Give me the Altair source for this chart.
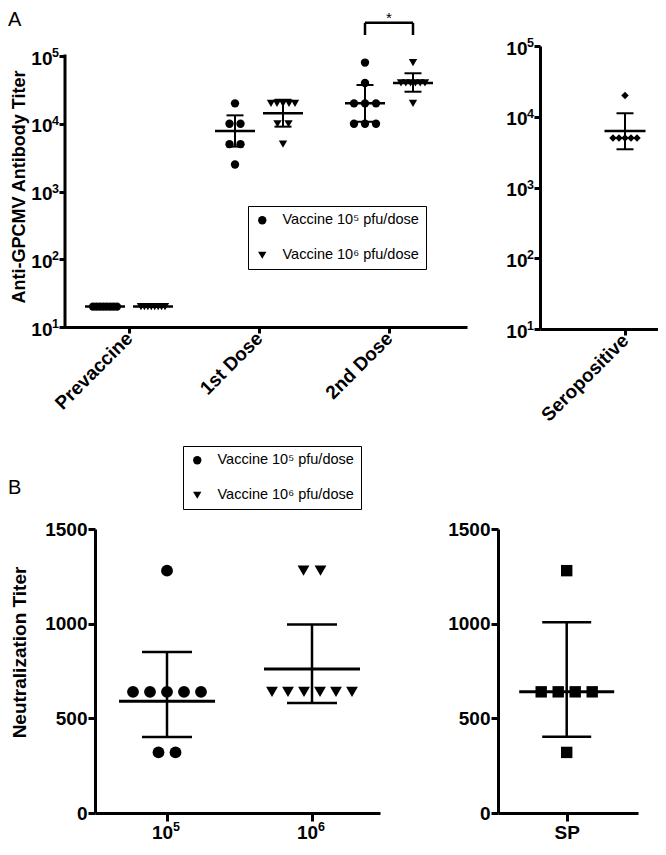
import json
from collections import Counter

import altair as alt
import pandas as pd

# ---------------- data ----------------
A_CATS = ["Prevaccine", "1st Dose", "2nd Dose"]
GROUPS = ["Vaccine 10⁵ pfu/dose", "Vaccine 10⁶ pfu/dose"]

a_prevaccine_1e5 = [20, 20, 20, 20, 20, 20, 20, 20]
a_prevaccine_1e6 = [20, 20, 20, 20, 20, 20, 20, 20]
a_dose1_1e5 = [20000, 10000, 10000, 5000, 5000, 2500]
a_dose1_1e6 = [20000, 20000, 20000, 20000, 20000, 10000, 10000, 5000]
a_dose2_1e5 = [80000, 40000, 20000, 20000, 20000, 10000, 10000, 10000]
a_dose2_1e6 = [80000, 40000, 40000, 40000, 40000, 40000, 40000, 20000]

a_mean_1e5 = [20, 7800, 20000]
a_low_1e5 = [20, 4600, 10700]
a_high_1e5 = [20, 13300, 37300]
a_mean_1e6 = [20, 14300, 40000]
a_low_1e6 = [20, 9060, 29700]
a_high_1e6 = [20, 22600, 55600]

SERO_CAT = ["Seropositive"]
a_seropositive = [20000, 5000, 5000, 5000, 5000, 5000]
a_sero_mean = [6300]
a_sero_low = [3470]
a_sero_high = [11200]

A_TICKS = [10, 100, 1000, 10000, 100000]
A_TICK_BASE = "10"
A_TICK_EXP = ["1", "2", "3", "4", "5"]
A_Y_TITLE = "Anti-GPCMV Antibody Titer"
SIG_LABEL = "*"

B_CAT_BASE = "10"
B_CAT_EXP = ["5", "6"]
b_neut_1e5 = [1280, 640, 640, 640, 640, 640, 320, 320]
b_neut_1e6 = [1280, 1280, 640, 640, 640, 640, 640, 640]
b_mean = [590, 761]
b_low = [401, 581]
b_high = [851, 995]

SP_CAT = ["SP"]
b_sp = [1280, 640, 640, 640, 640, 320]
b_sp_mean = [640]
b_sp_low = [403]
b_sp_high = [1008]

B_TICKS = [0, 500, 1000, 1500]
B_Y_TITLE = "Neutralization Titer"

# ---------------- styling / layout ----------------
FONT = "Liberation Sans, Arial, sans-serif"
NARROW = "Liberation Sans Narrow, Arial Narrow, Liberation Sans, Arial, sans-serif"

A_UNIT = 130.0   # px per category (panel A)
B_UNIT = 145.0   # px per category (panel B)
A_OFF = 24 / A_UNIT
A_GAP, A_SPAN = 11 / A_UNIT, 24 / A_UNIT
B_GAP, B_SPAN = 17 / B_UNIT, 80 / B_UNIT

AL_W, AL_H = 402, 281
AR_W, AR_H = 118, 283
BL_W, BL_H = 285, 284
BR_W, BR_H = 140, 284
A_TOP_EXT = 10 / 67.75  # extra decades above 10^5 in the left A panel
B_SHIFT = 30            # panel B starts further right than panel A
B_TOP = 531             # page y of the top of panel B plots (for legend / letter offsets)


def spread(values, center, gap, maxspan):
    out = []
    counts = Counter(values)
    for v in sorted(counts, reverse=True):
        n = counts[v]
        step = gap if n < 2 else min(gap, maxspan / (n - 1))
        for k in range(n):
            out.append((center + (k - (n - 1) / 2) * step, v))
    return out


def label_expr(values, labels):
    parts = [
        f"abs(datum.value - {v}) < {1e-6 * max(abs(v), 1)} ? {json.dumps(l, ensure_ascii=False)}"
        for v, l in zip(values, labels)
    ]
    return " : ".join(parts) + " : ''"


def axis(**kw):
    base = dict(grid=False, domainColor="black", domainWidth=3, tickColor="black",
                tickWidth=3, labelColor="black", labelFont=FONT, labelFontWeight="bold",
                titleFont=FONT, titleFontWeight="bold", titleColor="black",
                labelOverlap=False, labelFlush=False)
    base.update(kw)
    return alt.Axis(**base)


def legend(lx, ly):
    return alt.Legend(orient="none", legendX=lx, legendY=ly, title=None,
                      strokeColor="black", fillColor="white", padding=7,
                      symbolSize=70, symbolFillColor="black", symbolStrokeWidth=0,
                      symbolOpacity=1, labelFont=NARROW, labelFontSize=14.5,
                      labelColor="black", labelOffset=13, rowPadding=20)


SHAPE_SCALE = alt.Scale(domain=GROUPS, range=["circle", "triangle-down"])


def stats_layers(stats, X, Y, mean_w, cap_w, lw, mean_lw):
    base = alt.Chart(stats)
    rule = base.mark_rule(color="black", strokeWidth=lw).encode(
        x=X("x"), y=Y("lo"), y2="hi:Q")
    mean = base.mark_tick(orient="horizontal", size=mean_w, thickness=mean_lw,
                          color="black", opacity=1).encode(x=X("x"), y=Y("mean"))
    lo = base.mark_tick(orient="horizontal", size=cap_w, thickness=lw,
                        color="black", opacity=1).encode(x=X("x"), y=Y("lo"))
    hi = base.mark_tick(orient="horizontal", size=cap_w, thickness=lw,
                        color="black", opacity=1).encode(x=X("x"), y=Y("hi"))
    return [rule, mean, lo, hi]


def y_exponents(Y):
    df = pd.DataFrame({"v": A_TICKS, "e": A_TICK_EXP})
    return alt.Chart(df).mark_text(align="right", baseline="middle", dy=-3, fontSize=12.5,
                                   fontWeight="bold", font=FONT, color="black").encode(
        y=Y("v"), x=alt.value(-6), text="e:N")


# ---------------- panel A, left ----------------
rows, st = [], []
for i, (v5, v6) in enumerate(zip([a_prevaccine_1e5, a_dose1_1e5, a_dose2_1e5],
                                 [a_prevaccine_1e6, a_dose1_1e6, a_dose2_1e6])):
    for x, v in spread(v5, i - A_OFF, A_GAP, A_SPAN):
        rows.append({"x": x, "y": v, "g": GROUPS[0]})
    for x, v in spread(v6, i + A_OFF, A_GAP, A_SPAN):
        rows.append({"x": x, "y": v, "g": GROUPS[1]})
    st.append({"x": i - A_OFF, "mean": a_mean_1e5[i], "lo": a_low_1e5[i], "hi": a_high_1e5[i]})
    st.append({"x": i + A_OFF, "mean": a_mean_1e6[i], "lo": a_low_1e6[i], "hi": a_high_1e6[i]})
a_pts = pd.DataFrame(rows)
a_st = pd.DataFrame(st)

al_xmin = -64 / A_UNIT
al_xs = alt.Scale(domain=[al_xmin, al_xmin + AL_W / A_UNIT], nice=False, zero=False)
al_ys = alt.Scale(type="log", domain=[10, 10 ** (5 + A_TOP_EXT)], nice=False)
al_xa = axis(values=[0, 1, 2], labelExpr=label_expr([0, 1, 2], A_CATS), labelAngle=315,
             labelAlign="right", labelBaseline="middle", tickSize=6, labelPadding=2,
             labelFontSize=19, title=None)
al_ya = axis(values=A_TICKS, labelExpr=f"'{A_TICK_BASE}'", domain=False,
             tickSize=6, labelPadding=7, labelOffset=2, labelFontSize=19, title=A_Y_TITLE,
             titleFontSize=18, titleAngle=270, titleAlign="center", titleBaseline="middle",
             titleX=-46, titleY=140.5)


def ALX(f):
    return alt.X(f"{f}:Q", scale=al_xs, axis=al_xa)


def ALY(f):
    return alt.Y(f"{f}:Q", scale=al_ys, axis=al_ya)


al_points = alt.Chart(a_pts).mark_point(filled=True, color="black", opacity=1, size=70).encode(
    x=ALX("x"), y=ALY("y"),
    shape=alt.Shape("g:N", scale=SHAPE_SCALE, legend=legend(248 - 65, 205 - 45)),
)
al_axis_line = alt.Chart(pd.DataFrame({"x": [al_xmin], "y": [10], "y2": [100000]})).mark_rule(
    color="black", strokeWidth=3, strokeCap="square").encode(x=ALX("x"), y=ALY("y"), y2="y2:Q")

br_df = pd.DataFrame({"x": [2 - A_OFF], "x2": [2 + A_OFF], "y": [10 ** 5.49]})
legs_df = pd.DataFrame({"x": [2 - A_OFF, 2 + A_OFF], "y": [10 ** 5.31] * 2, "y2": [10 ** 5.49] * 2})
al_br_h = alt.Chart(br_df).mark_rule(color="black", strokeWidth=2.5).encode(
    x=ALX("x"), x2="x2:Q", y=ALY("y"))
al_br_v = alt.Chart(legs_df).mark_rule(color="black", strokeWidth=2.5).encode(
    x=ALX("x"), y=ALY("y"), y2="y2:Q")
al_star = alt.Chart(pd.DataFrame({"x": [2], "y": [10 ** 5.56], "t": [SIG_LABEL]})).mark_text(
    fontSize=15, font=FONT, color="black", baseline="middle").encode(
    x=ALX("x"), y=ALY("y"), text="t:N")
al_letter = alt.Chart(pd.DataFrame({"t": ["A"]})).mark_text(
    align="left", baseline="alphabetic", fontSize=20, font=FONT, color="black").encode(
    text="t:N", x=alt.value(-57), y=alt.value(-20))

A_left = alt.layer(
    al_axis_line,
    *stats_layers(a_st, ALX, ALY, 40, 17, 2, 2.5),
    al_points, al_br_h, al_br_v, al_star, al_letter, y_exponents(ALY),
).properties(width=AL_W, height=AL_H)

# ---------------- panel A, right ----------------
ar_pts = pd.DataFrame([{"x": x, "y": v} for x, v in spread(a_seropositive, 0, A_GAP, A_SPAN)])
ar_st = pd.DataFrame({"x": [0], "mean": a_sero_mean, "lo": a_sero_low, "hi": a_sero_high})
ar_xmin = -85 / A_UNIT
ar_xs = alt.Scale(domain=[ar_xmin, ar_xmin + AR_W / A_UNIT], nice=False, zero=False)
ar_ys = alt.Scale(type="log", domain=[10, 100000], nice=False)
ar_xa = axis(values=[0], labelExpr=label_expr([0], SERO_CAT), labelAngle=315,
             labelAlign="right", labelBaseline="middle", tickSize=6, labelPadding=2,
             labelFontSize=19, title=None)
ar_ya = axis(values=A_TICKS, labelExpr=f"'{A_TICK_BASE}'",
             tickSize=6, labelPadding=7, labelOffset=2, labelFontSize=19, title=None)


def ARX(f):
    return alt.X(f"{f}:Q", scale=ar_xs, axis=ar_xa)


def ARY(f):
    return alt.Y(f"{f}:Q", scale=ar_ys, axis=ar_ya)


ar_points = alt.Chart(ar_pts).mark_point(filled=True, color="black", opacity=1,
                                         shape="diamond", size=56).encode(x=ARX("x"), y=ARY("y"))
A_right = alt.layer(*stats_layers(ar_st, ARX, ARY, 41, 17, 2, 2.5), ar_points,
                    y_exponents(ARY)).properties(width=AR_W, height=AR_H)

# ---------------- panel B, left ----------------
rows, st = [], []
for i, vals in enumerate([b_neut_1e5, b_neut_1e6]):
    for x, v in spread(vals, i, B_GAP, B_SPAN):
        rows.append({"x": x, "y": v, "g": GROUPS[i]})
    st.append({"x": i, "mean": b_mean[i], "lo": b_low[i], "hi": b_high[i]})
b_pts = pd.DataFrame(rows)
b_st = pd.DataFrame(st)

bl_xmin = -72 / B_UNIT
bl_xs = alt.Scale(domain=[bl_xmin, bl_xmin + BL_W / B_UNIT], nice=False, zero=False)
b_ys = alt.Scale(domain=[0, 1500], nice=False, zero=True)
bl_xa = axis(values=[0, 1], labelExpr=f"'{B_CAT_BASE}'", labelAngle=0, labelOffset=-5,
             tickSize=8, labelPadding=2, labelFontSize=19, title=None)
bl_ya = axis(values=B_TICKS, tickSize=7, labelPadding=1, labelFontSize=19, format="d",
             title=B_Y_TITLE, titleFontSize=19, titleAngle=270, titleAlign="center",
             titleBaseline="middle", titleX=-76, titleY=654 - B_TOP)


def BLX(f):
    return alt.X(f"{f}:Q", scale=bl_xs, axis=bl_xa)


def BLY(f):
    return alt.Y(f"{f}:Q", scale=b_ys, axis=bl_ya)


bl_points = alt.Chart(b_pts).mark_point(filled=True, color="black", opacity=1, size=140).encode(
    x=BLX("x"), y=BLY("y"),
    shape=alt.Shape("g:N", scale=SHAPE_SCALE, legend=legend(183 - 95, 448 - B_TOP)),
)
bl_letter = alt.Chart(pd.DataFrame({"t": ["B"]})).mark_text(
    align="left", baseline="alphabetic", fontSize=20, font=FONT, color="black").encode(
    text="t:N", x=alt.value(-87), y=alt.value(496 - B_TOP))
bl_exp = alt.Chart(pd.DataFrame({"x": [0, 1], "e": B_CAT_EXP})).mark_text(
    align="left", baseline="top", dx=6, fontSize=12.5, fontWeight="bold", font=FONT,
    color="black").encode(x=BLX("x"), y=alt.value(BL_H + 8), text="e:N")
B_left = alt.layer(*stats_layers(b_st, BLX, BLY, 96, 50, 2.5, 3), bl_points, bl_letter,
                   bl_exp).properties(width=BL_W, height=BL_H)

# ---------------- panel B, right ----------------
br_pts = pd.DataFrame([{"x": x, "y": v} for x, v in spread(b_sp, 0, B_GAP, B_SPAN)])
br_st = pd.DataFrame({"x": [0], "mean": b_sp_mean, "lo": b_sp_low, "hi": b_sp_high})
br_xmin = -68.7 / B_UNIT
br_xs = alt.Scale(domain=[br_xmin, br_xmin + BR_W / B_UNIT], nice=False, zero=False)
br_xa = axis(values=[0], labelExpr=label_expr([0], SP_CAT), labelAngle=0,
             tickSize=8, labelPadding=2, labelFontSize=19, title=None)
br_ya = axis(values=B_TICKS, tickSize=7, labelPadding=1, labelFontSize=19, format="d", title=None)


def BRX(f):
    return alt.X(f"{f}:Q", scale=br_xs, axis=br_xa)


def BRY(f):
    return alt.Y(f"{f}:Q", scale=b_ys, axis=br_ya)


br_points = alt.Chart(br_pts).mark_point(filled=True, color="black", opacity=1,
                                         shape="square", size=130).encode(x=BRX("x"), y=BRY("y"))
B_right = alt.layer(*stats_layers(br_st, BRX, BRY, 95, 49, 2.5, 3), br_points).properties(
    width=BR_W, height=BR_H)

# empty spacer view that pushes panel B to the right
spacer = alt.Chart(pd.DataFrame({"v": [0]})).mark_point(opacity=0).encode(
    x=alt.value(0), y=alt.value(0)).properties(width=B_SHIFT, height=1)

# ---------------- assemble ----------------
row1 = alt.hconcat(A_left, A_right, spacing=73, bounds="flush").resolve_scale(
    shape="independent").resolve_legend(shape="independent")
b_pair = alt.hconcat(B_left, B_right, spacing=118, bounds="flush").resolve_scale(
    shape="independent").resolve_legend(shape="independent")
row2 = alt.hconcat(spacer, b_pair, spacing=0, bounds="flush").resolve_scale(
    shape="independent").resolve_legend(shape="independent")

chart = alt.vconcat(row1, row2, spacing=20).resolve_scale(
    shape="independent").resolve_legend(shape="independent").properties(
    padding={"left": 0, "top": 2, "right": 0, "bottom": 0}
).configure_view(stroke=None).configure_legend(strokeWidth=1)

chart.save("out.html", embed_options={"renderer": "svg", "actions": False})
